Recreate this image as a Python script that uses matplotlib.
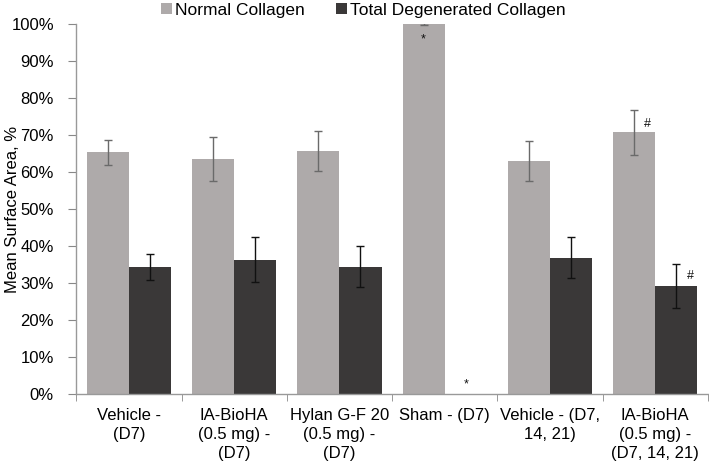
import matplotlib
matplotlib.use("Agg")
import matplotlib.pyplot as plt
import numpy as np

plt.rcParams['font.family'] = ['Liberation Sans', 'DejaVu Sans']

categories = ["Vehicle -\n(D7)", "IA-BioHA\n(0.5 mg) -\n(D7)", "Hylan G-F 20\n(0.5 mg) -\n(D7)",
              "Sham - (D7)", "Vehicle - (D7,\n14, 21)", "IA-BioHA\n(0.5 mg) -\n(D7, 14, 21)"]
normal = [65.3, 63.5, 65.7, 100.0, 63.0, 70.7]
normal_err = [3.4, 6.0, 5.5, 0.2, 5.4, 6.2]
degen = [34.4, 36.3, 34.4, 0.0, 36.8, 29.2]
degen_err = [3.5, 6.0, 5.5, 0.0, 5.5, 6.0]
yticks = [0, 10, 20, 30, 40, 50, 60, 70, 80, 90, 100]

# annotations: (group index, series offset, y value, text)
annotations = [(3, -0.2, 96.0, "*"), (3, 0.2, 2.6, "*"), (5, -0.07, 73.0, "#"), (5, 0.33, 32.0, "#")]

fig = plt.figure(figsize=(7.09, 4.65), dpi=100)
ax = fig.add_axes([0.1075, 0.153, 0.891, 0.795])

x = np.arange(len(categories))
w = 0.4
light = "#aeaaaa"
dark = "#3a3838"
ax.bar(x - w/2, np.array(normal)/100, w, color=light, label="Normal Collagen", zorder=2)
ax.bar(x + w/2, np.array(degen)/100, w, color=dark, label="Total Degenerated Collagen", zorder=2)
ax.errorbar(x - w/2, np.array(normal)/100, yerr=np.array(normal_err)/100, fmt='none',
            ecolor="#6a6a6a", elinewidth=1.0, capsize=3, capthick=1.0, zorder=3)
mask = np.array(degen) > 0
ax.errorbar((x + w/2)[mask], np.array(degen)[mask]/100, yerr=np.array(degen_err)[mask]/100, fmt='none',
            ecolor="#111111", elinewidth=1.0, capsize=3, capthick=1.0, zorder=3)

for gi, off, yv, t in annotations:
    ax.text(gi + off, yv/100, t, ha='center', va='center', fontsize=9, color='#111111', zorder=4)

ax.set_xlim(-0.5, len(categories) - 0.5)
ax.set_ylim(0, 1.0)
ax.set_yticks(np.array(yticks)/100)
ax.set_yticklabels([f"{v}%" for v in yticks], fontsize=12)
ax.set_xticks(x)
ax.set_xticklabels(categories, fontsize=12, linespacing=1.35)
ax.tick_params(axis='x', length=0, pad=10)
ax.set_xticks(np.arange(-0.5, len(categories)), minor=True)
ax.tick_params(axis='x', which='minor', length=5, color='#888888', direction='out')
ax.tick_params(axis='y', length=6, color='#888888', direction='out', pad=10)
for s in ['top', 'right']:
    ax.spines[s].set_visible(False)
for s in ['left', 'bottom']:
    ax.spines[s].set_color('#999999')
    ax.spines[s].set_linewidth(1.0)
ax.set_ylabel("Mean Surface Area, %", fontsize=12, va='center')
ax.yaxis.set_label_coords(-0.101, 0.5)

leg = ax.legend(loc='upper center', bbox_to_anchor=(0.455, 1.10), ncol=2, frameon=False,
                fontsize=12.5, handlelength=0.6, handleheight=0.6, handletextpad=0.2,
                columnspacing=1.8)

fig.savefig("out.png", dpi=100)
